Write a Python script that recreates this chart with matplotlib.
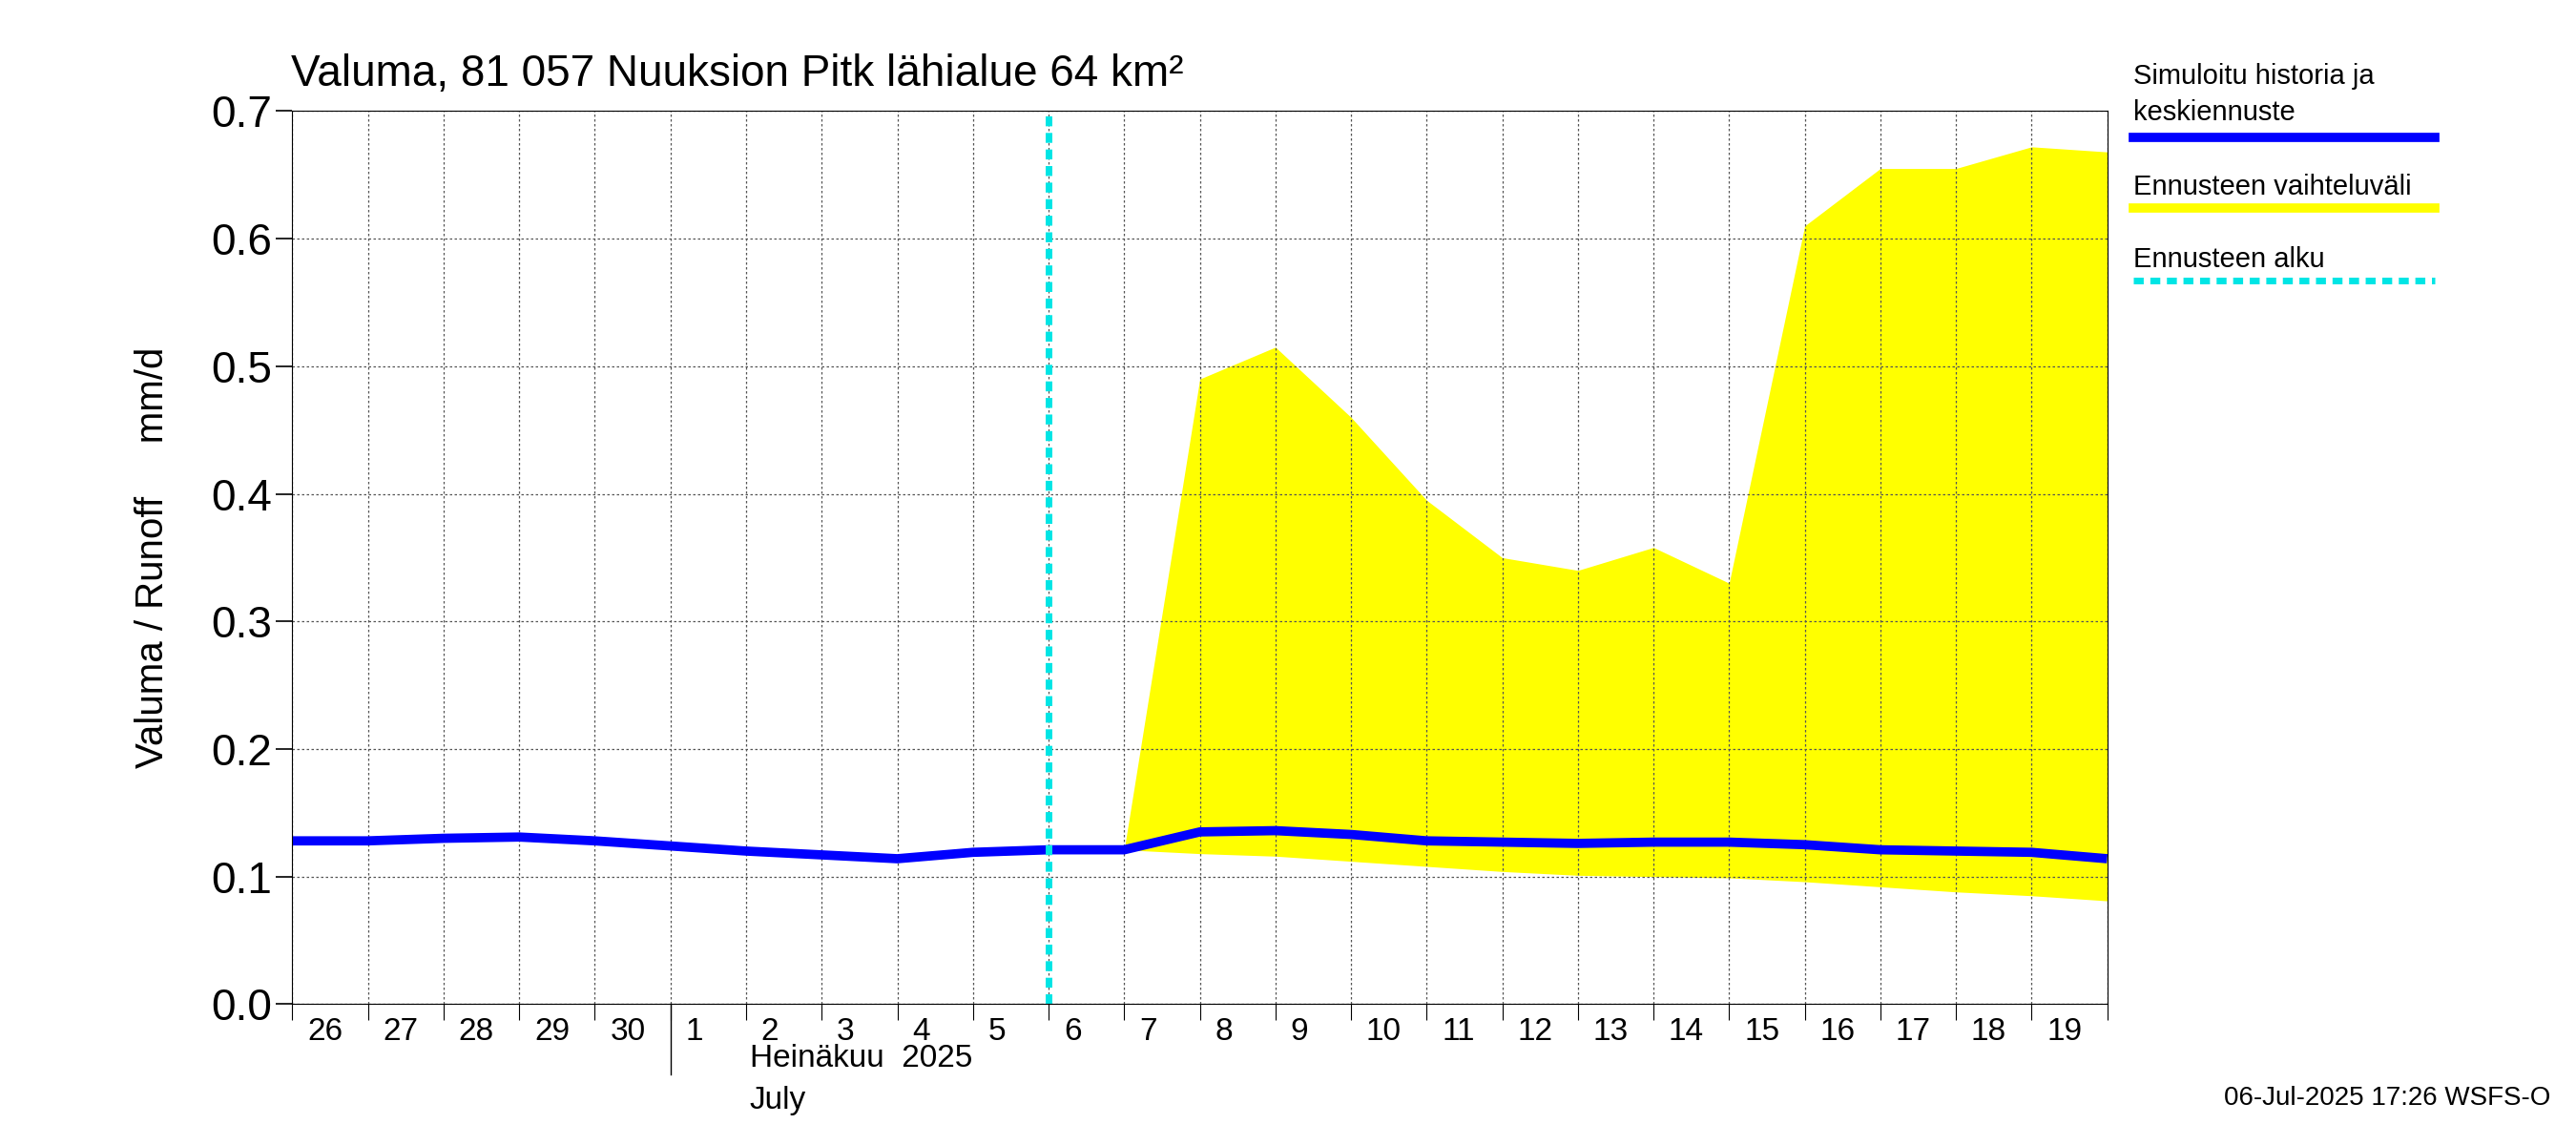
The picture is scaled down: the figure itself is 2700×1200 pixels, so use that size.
import matplotlib
matplotlib.use("Agg")
import matplotlib.pyplot as plt
import numpy as np

plt.rcParams["font.family"] = "Liberation Sans"

days = list(range(0, 25))  # day offset from 26 Jun 2025
sim = [0.128,0.128,0.130,0.131,0.128,0.124,0.120,0.117,0.114,0.119,0.121,0.121,0.135,0.136,0.133,0.128,0.127,0.126,0.127,0.127,0.125,0.121,0.120,0.119,0.114]
band_days = list(range(11, 25))
band_hi = [0.121,0.49,0.515,0.46,0.395,0.35,0.34,0.358,0.33,0.61,0.655,0.655,0.672,0.668]
band_lo = [0.121,0.118,0.116,0.112,0.108,0.104,0.101,0.100,0.099,0.096,0.092,0.088,0.085,0.081]
day_labels = ["26","27","28","29","30","1","2","3","4","5","6","7","8","9","10","11","12","13","14","15","16","17","18","19"]
forecast_start = 10
yticks = [0.0,0.1,0.2,0.3,0.4,0.5,0.6,0.7]

fig = plt.figure(figsize=(27,12), dpi=100)
ax = fig.add_axes([0.1135,0.123,0.7045,0.780])
ax.fill_between(band_days, band_lo, band_hi, color="#ffff00", lw=0)
ax.plot(days, sim, color="#0000ff", lw=7, solid_capstyle="butt")
ax.axvline(forecast_start, color="#00e5e5", lw=5, ls=(0,(1.5,1)))
ax.set_xlim(0,24); ax.set_ylim(0,0.7)
ax.set_xticks(range(0,25)); ax.set_xticklabels([])
ax.set_yticks(yticks); ax.set_yticklabels([f"{v:.1f}" for v in yticks], fontsize=33)
ax.grid(True, color="#555555", ls=(0,(2,2)), lw=0.9)
ax.tick_params(axis="x", length=12, direction="out")
ax.tick_params(axis="y", length=12, direction="out", width=1.2)
for i, l in enumerate(day_labels):
    ax.text(i+0.2, -0.01, l, ha="left", va="top", fontsize=24)
ax.plot([5,5],[0,-0.055], color="black", lw=1, clip_on=False)
ax.text(6.05, -0.031, "Heinäkuu  2025", ha="left", va="top", fontsize=24)
ax.text(6.05, -0.064, "July", ha="left", va="top", fontsize=24)
ax.set_ylabel("Valuma / Runoff     mm/d", fontsize=29, labelpad=30)
fig.text(0.113, 0.925, "Valuma, 81 057 Nuuksion Pitk lähialue 64 km²", fontsize=33)
fig.text(0.828, 0.89, "Simuloitu historia ja\nkeskiennuste", fontsize=21, va="bottom", linespacing=1.45)
fig.lines.append(plt.Line2D([0.828,0.945],[0.880,0.880], transform=fig.transFigure, color="#0000ff", lw=7))
fig.text(0.828, 0.830, "Ennusteen vaihteluväli", fontsize=21)
fig.lines.append(plt.Line2D([0.828,0.945],[0.818,0.818], transform=fig.transFigure, color="#ffff00", lw=7))
fig.text(0.828, 0.767, "Ennusteen alku", fontsize=21)
fig.lines.append(plt.Line2D([0.828,0.945],[0.755,0.755], transform=fig.transFigure, color="#00e5e5", lw=5, ls=(0,(1.5,1))))
fig.text(0.99, 0.035, "06-Jul-2025 17:26 WSFS-O", ha="right", fontsize=20)
fig.savefig("out.png", dpi=100)
